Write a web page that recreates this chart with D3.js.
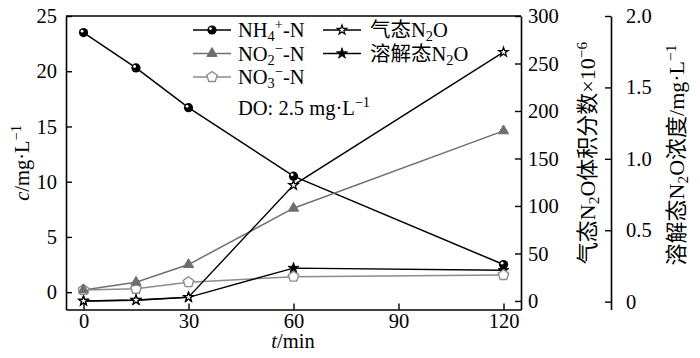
<!DOCTYPE html>
<html><head><meta charset="utf-8">
<script src="https://cdn.jsdelivr.net/npm/d3@7"></script>
<style>
body{margin:0;background:#fff;}
svg{font-family:"Liberation Serif","Noto Sans CJK SC",serif;}
</style></head>
<body><svg id="c" width="700" height="358"></svg>
<script>
const times = [0, 15, 30, 60, 120];
const nh4 = [23.5, 20.3, 16.7, 10.5, 2.5];
const no2 = [0.2, 0.9, 2.5, 7.6, 14.6];
const no3 = [0.2, 0.3, 0.9, 1.4, 1.55];
const gasN2O = [0, 1, 4, 122, 262];
const dissN2O = [0.005, 0.01, 0.03, 0.235, 0.22];
const xTicks = [0, 30, 60, 90, 120];
const leftTicks = [0, 5, 10, 15, 20, 25];
const gasTicks = [0, 50, 100, 150, 200, 250, 300];
const dissTicks = [0, 0.5, 1.0, 1.5, 2.0];

const svg = d3.select("#c");
const L = 66, R = 521, T = 16, B = 309.5;
const x = d3.scaleLinear().domain([-5, 125]).range([L, R]);
const yL = d3.scaleLinear().domain([-1.57, 25]).range([B, T]);
const yG = d3.scaleLinear().domain([-9, 300]).range([B, T]);
const yD = d3.scaleLinear().domain([-0.055, 2.0]).range([B, T]);
const FS = 20.5;

function styleAxis(g){
  g.selectAll("path").attr("stroke","#000").attr("stroke-width",1.6);
  g.selectAll("line").attr("stroke","#000").attr("stroke-width",1.4);
  g.selectAll("text").attr("font-size",FS).attr("fill","#000").attr("font-family","Liberation Serif");
}
// frame
svg.append("line").attr("x1",L).attr("x2",R).attr("y1",T).attr("y2",T).attr("stroke","#000").attr("stroke-width",1.6);
// bottom
svg.append("g").attr("transform",`translate(0,${B})`)
  .call(d3.axisBottom(x).tickValues(xTicks).tickSizeInner(-6).tickSizeOuter(0).tickPadding(4).tickFormat(d3.format("d")))
  .call(styleAxis);
// left
svg.append("g").attr("transform",`translate(${L},0)`)
  .call(d3.axisLeft(yL).tickValues(leftTicks).tickSizeInner(-6).tickSizeOuter(0).tickPadding(9).tickFormat(d3.format("d")))
  .call(styleAxis);
// gas axis
svg.append("g").attr("transform",`translate(${R},0)`)
  .call(d3.axisRight(yG).tickValues(gasTicks).tickSizeInner(-6).tickSizeOuter(0).tickPadding(7).tickFormat(d3.format("d")))
  .call(styleAxis);
// dissolved axis
const RX = 611;
svg.append("g").attr("transform",`translate(${RX},0)`)
  .call(d3.axisRight(yD).tickValues(dissTicks).tickSizeInner(-6).tickSizeOuter(0).tickPadding(15).tickFormat(d=>d===0?"0":d.toFixed(1)))
  .call(styleAxis);

// series
const series = [
  {v:nh4, y:yL, color:"#000", lw:1.5, m:"circle"},
  {v:no2, y:yL, color:"#707070", lw:1.5, m:"tri"},
  {v:no3, y:yL, color:"#8c8c8c", lw:1.5, m:"pent"},
  {v:gasN2O, y:yG, color:"#000", lw:1.4, m:"starO"},
  {v:dissN2O, y:yD, color:"#000", lw:1.4, m:"starF"}
];
function drawMarker(g, m, color){
  if(m==="circle"){
    g.append("circle").attr("r",4.6).attr("fill","#000");
    g.append("circle").attr("cx",-1.4).attr("cy",-1.4).attr("r",1.4).attr("fill","#fff");
  } else if(m==="tri"){
    g.append("path").attr("d",d3.symbol(d3.symbolTriangle,45)()).attr("fill","#6e6e6e").attr("stroke","#6e6e6e");
  } else if(m==="pent"){
    const r=5.5, pts=d3.range(5).map(i=>{const a=-Math.PI/2+i*2*Math.PI/5;return [r*Math.cos(a),r*Math.sin(a)];});
    g.append("path").attr("d","M"+pts.join("L")+"Z").attr("fill","#fff").attr("stroke",color).attr("stroke-width",1.4);
  } else if(m==="starO"){
    g.append("path").attr("d",d3.symbol(d3.symbolStar,28)()).attr("fill","#fff").attr("stroke","#000").attr("stroke-width",1.2);
  } else if(m==="starF"){
    g.append("path").attr("d",d3.symbol(d3.symbolStar,38)()).attr("fill","#000").attr("stroke","#000").attr("stroke-width",0.8);
  }
}
series.forEach(s=>{
  const line = d3.line().x((d,i)=>x(times[i])).y(d=>s.y(d));
  svg.append("path").datum(s.v).attr("d",line).attr("fill","none").attr("stroke",s.color).attr("stroke-width",s.lw);
});
series.slice().reverse().forEach(s=>{
  s.v.forEach((d,i)=>{
    const g = svg.append("g").attr("transform",`translate(${x(times[i])},${s.y(d)})`);
    drawMarker(g, s.m, s.color);
  });
});

// legend
const legendRows = [
  {m:"circle", color:"#000", col:0, row:0, parts:[["NH",""],["4","sub"],["+","sup"],["-N",""]]},
  {m:"tri", color:"#707070", col:0, row:1, parts:[["NO",""],["2","sub"],["\u2212","sup"],["-N",""]]},
  {m:"pent", color:"#8c8c8c", col:0, row:2, parts:[["NO",""],["3","sub"],["\u2212","sup"],["-N",""]]},
  {m:"starO", color:"#000", col:1, row:0, parts:[["气态N",""],["2","sub"],["O",""]]},
  {m:"starF", color:"#000", col:1, row:1, parts:[["溶解态N",""],["2","sub"],["O",""]]}
];
function richText(t, parts, fs){
  fs = fs||FS;
  let prev="";
  parts.forEach(([s,k])=>{
    const sp = t.append("tspan").text(s);
    if(k==="sub"){ sp.attr("font-size",fs*0.7).attr("dy", prev==="sup"? 9: 4); }
    else if(k==="sup"){ sp.attr("font-size",fs*0.7).attr("dy", prev==="sub"? -12: -8); }
    else { if(prev==="sub") sp.attr("dy",-4); if(prev==="sup") sp.attr("dy",8); }
    prev=k;
  });
}
legendRows.forEach(r=>{
  const lx = r.col===0?193:323, ly = 30 + r.row*23.5;
  const g = svg.append("g");
  g.append("line").attr("x1",lx).attr("x2",lx+38).attr("y1",ly).attr("y2",ly).attr("stroke",r.color).attr("stroke-width",1.5);
  drawMarker(g.append("g").attr("transform",`translate(${lx+19},${ly})`), r.m, r.color);
  const t = g.append("text").attr("x", r.col===0?238:370).attr("y", ly+7).attr("font-size",FS).attr("fill","#000");
  richText(t, r.parts);
});
// DO note
const dt = svg.append("text").attr("x",238).attr("y",115).attr("font-size",FS);
richText(dt, [["DO: 2.5 mg\u00b7L",""],["\u22121","sup"]]);

// axis titles
const xt = svg.append("text").attr("x",293).attr("y",348).attr("text-anchor","middle").attr("font-size",FS);
xt.append("tspan").attr("font-style","italic").text("t");
xt.append("tspan").text("/min");

const ytl = svg.append("text").attr("transform","translate(29,163) rotate(-90)").attr("text-anchor","middle").attr("font-size",FS);
ytl.append("tspan").attr("font-style","italic").text("c");
ytl.append("tspan").text("/mg\u00b7L");
ytl.append("tspan").attr("font-size",FS*0.7).attr("dy",-8).text("\u22121");

const ytg = svg.append("text").attr("transform","translate(595,153) rotate(-90)").attr("text-anchor","middle").attr("font-size",22);
richText(ytg, [["气态N",""],["2","sub"],["O体积分数\u00d710",""],["\u22126","sup"]], 22);

const ytd = svg.append("text").attr("transform","translate(684,155) rotate(-90)").attr("text-anchor","middle").attr("font-size",22);
richText(ytd, [["溶解态N",""],["2","sub"],["O浓度/mg\u00b7L",""],["\u22121","sup"]], 22);
</script></body></html>
